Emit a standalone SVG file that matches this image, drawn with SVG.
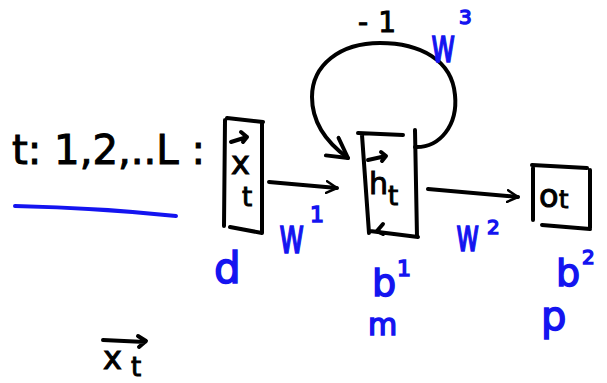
<svg xmlns="http://www.w3.org/2000/svg" width="607" height="383" viewBox="0 0 607 383">
<style>
.ink{fill:none;stroke:#000;stroke-width:4;stroke-linecap:round;stroke-linejoin:round}
.blu{fill:none;stroke:#1414f0;stroke-width:4;stroke-linecap:round;stroke-linejoin:round}
.k{font-family:"DejaVu Sans","Liberation Sans",sans-serif;fill:#000;stroke:#000;stroke-width:1}
.b{font-family:"DejaVu Sans","Liberation Sans",sans-serif;fill:#1414f0;stroke:#1414f0;stroke-width:1.5}
</style>
<defs>
<marker id="ah" viewBox="0 0 12 12" refX="10" refY="6" markerWidth="14" markerHeight="14" markerUnits="userSpaceOnUse" orient="auto">
<path d="M1,1 L10,6 L1,11" fill="none" stroke="#000" stroke-width="2.2" stroke-linecap="round" stroke-linejoin="round"/>
</marker>
<marker id="ahb" viewBox="0 0 12 12" refX="10" refY="6" markerWidth="26" markerHeight="26" markerUnits="userSpaceOnUse" orient="auto">
<path d="M1,1 L10,6 L1,11" fill="none" stroke="#000" stroke-width="1.8" stroke-linecap="round" stroke-linejoin="round"/>
</marker>
</defs>
<rect width="607" height="383" fill="#fff"/>
<g id="header">
<text class="k" x="12" y="164" font-size="40" textLength="193" lengthAdjust="spacingAndGlyphs">t: 1,2,..L :</text>
<path class="blu" d="M15,206 Q100,208 176,216"/>
</g>
<g id="node-x">
<path class="ink" d="M227,118 L263,122 M225,120 L224,226 M262,124 L262,233 M230,227 L262,233"/>
<path class="ink" d="M231,142 L247,137 M241,132 L247,137 L243,142" stroke-width="3"/>
<text class="k" x="231" y="174" font-size="32">x</text>
<text class="k" x="242" y="206" font-size="26">t</text>
</g>
<g id="node-h">
<path class="ink" d="M358,133 L403,135 M362,135 L369,233 M415,130 L417,237 M370,231 L418,237"/>
<path class="ink" d="M368,160 L386,156 M381,152 L386,156 L382,161" stroke-width="3"/>
<path class="ink" d="M383,224 L377,231 L383,234" stroke-width="3"/>
<text class="k" x="369" y="194" font-size="30">h</text>
<text class="k" x="388" y="205" font-size="26">t</text>
</g>
<g id="node-o">
<path class="ink" d="M532,165 L587,168 M533,168 L533,220 M590,170 L590,228 M542,225 L590,229"/>
<text class="k" x="539" y="207" font-size="32">o</text>
<text class="k" x="559" y="208" font-size="24">t</text>
</g>
<g id="connectors">
<path class="ink" d="M269,182 L337,188" marker-end="url(#ah)"/>
<path class="ink" d="M428,189 L518,197" marker-end="url(#ah)"/>
<path class="ink" d="M415,147 C440,148 458,125 455,95 C452,60 420,43 380,43 C340,43 312,65 312,97 C312,125 330,145 348,158" marker-end="url(#ahb)"/>
</g>
<g id="labels">
<text class="k" x="358" y="32" font-size="28" textLength="38" lengthAdjust="spacing">-1</text>
<text class="b" transform="translate(431,62) scale(0.62,1)" x="0" y="0" font-size="48">w</text>
<text class="b" x="459" y="24" font-size="20">3</text>
<text class="b" transform="translate(279,253) scale(0.62,1)" x="0" y="0" font-size="50">w</text>
<text class="b" x="310" y="222" font-size="22">1</text>
<text class="b" transform="translate(456,251) scale(0.62,1)" x="0" y="0" font-size="46">w</text>
<text class="b" x="487" y="234" font-size="20">2</text>
<text class="b" x="214" y="283" font-size="42">d</text>
<text class="b" x="372" y="296" font-size="38">b</text>
<text class="b" x="397" y="276" font-size="22">1</text>
<text class="b" x="368" y="335" font-size="30">m</text>
<text class="b" x="556" y="286" font-size="38">b</text>
<text class="b" x="582" y="264" font-size="20">2</text>
<text class="b" x="541" y="330" font-size="40">p</text>
<path class="ink" d="M103,340 L145,342 M138,336 L146,341 L139,347" stroke-width="3"/>
<text class="k" x="103" y="369" font-size="32">x</text>
<text class="k" x="131" y="376" font-size="26">t</text>
</g>
</svg>
